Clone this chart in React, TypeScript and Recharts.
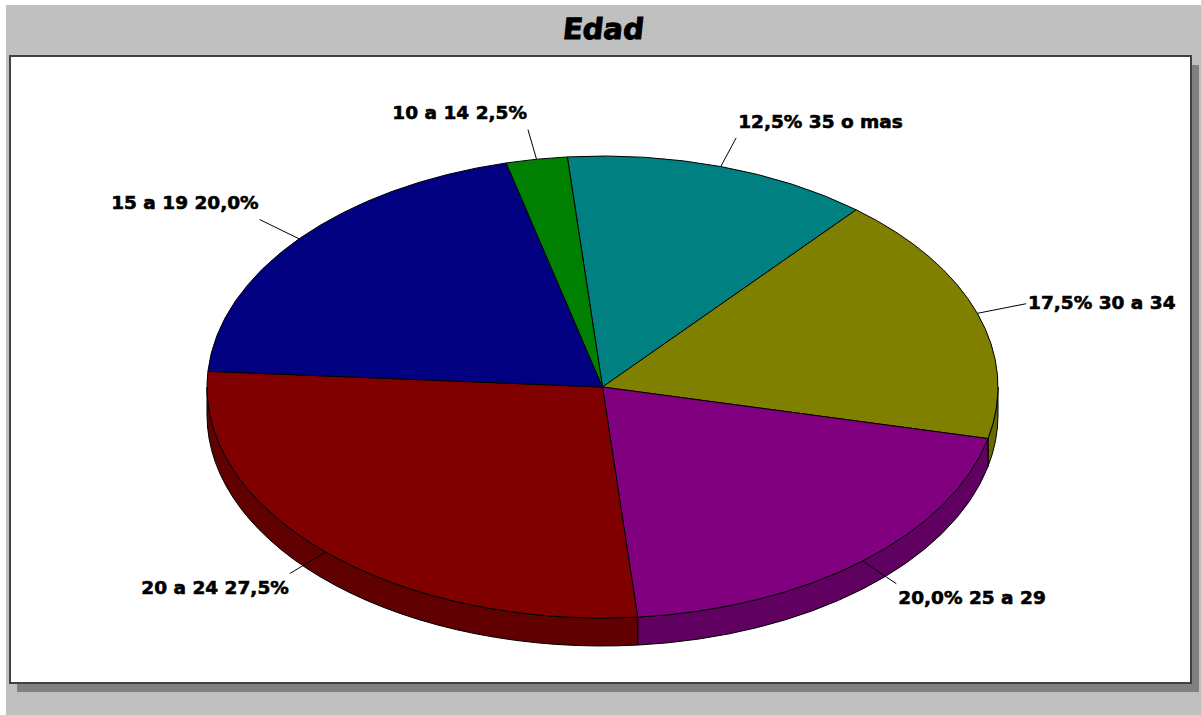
import { PieChart, Pie, Cell } from "recharts";

const ageGroups = ["35 o mas", "30 a 34", "25 a 29", "20 a 24", "15 a 19", "10 a 14"];
const shares = [12.5, 17.5, 20, 27.5, 20, 2.5];
const topColors = ["#008080", "#808000", "#800080", "#800000", "#000080", "#008000"];
const sideColors = ["#006060", "#6a6a00", "#600060", "#600000", "#000060", "#006000"];

const pieData = ageGroups.map((name, i) => ({ name, value: shares[i] }));

const CX = 602.5;
const CY = 387;
const RX = 395.5;
const RY = 231;
const DEPTH = 28;
const FONT = '"DejaVu Sans", sans-serif';

const RAD = Math.PI / 180;
const px = (angle: number, k = 1) => CX + k * RX * Math.cos(angle * RAD);
const py = (angle: number, k = 1) => CY - k * RY * Math.sin(angle * RAD);

// pie face squashed into an ellipse
const TopSlice = (props: any) => {
  const { startAngle, endAngle, fill } = props;
  const large = Math.abs(startAngle - endAngle) > 180 ? 1 : 0;
  const d = `M${CX},${CY} L${px(startAngle)},${py(startAngle)} A${RX},${RY} 0 ${large} 1 ${px(endAngle)},${py(endAngle)} Z`;
  return <path d={d} fill={fill} stroke="#000" strokeWidth={1} />;
};

// rim below the face, only the front half (0 to -180 degrees) shows
const SideSlice = (props: any) => {
  const { fill, startAngle, endAngle } = props;
  const from = Math.min(startAngle, 0);
  const to = Math.max(endAngle, -180);
  if (from <= to) return null;
  const d =
    `M${px(from)},${py(from)} A${RX},${RY} 0 0 1 ${px(to)},${py(to)} ` +
    `L${px(to)},${py(to) + DEPTH} A${RX},${RY} 0 0 0 ${px(from)},${py(from) + DEPTH} Z`;
  return <path d={d} fill={fill} stroke="#000" strokeWidth={1} />;
};

const renderLabel = (props: any) => {
  const { midAngle, name, value } = props;
  const cos = Math.cos(midAngle * RAD);
  const sin = Math.sin(midAngle * RAD);
  const ex = px(midAngle, 1.13);
  const ey = py(midAngle, 1.13);
  const right = cos > 0;
  const pct = `${value.toFixed(1).replace(".", ",")}%`;
  const lift = Math.abs(sin) > 0.5 ? (sin > 0 ? -17 : 14) : -1;
  return (
    <g>
      <line x1={px(midAngle)} y1={py(midAngle)} x2={ex} y2={ey} stroke="#000" strokeWidth={1} />
      <text
        x={ex + (right ? 2 : -1)}
        y={ey + lift}
        dy="0.36em"
        textAnchor={right ? "start" : "end"}
        fontFamily={FONT}
        fontWeight="bold"
        fontSize={18.5}
        stroke="#000"
        strokeWidth={0.6}
        fill="#000"
      >
        {right ? `${pct} ${name}` : `${name} ${pct}`}
      </text>
    </g>
  );
};

const App = () => (
  <div style={{ position: "absolute", left: 0, top: 0, width: 1201, height: 715, background: "#fff", overflow: "hidden" }}>
    <div style={{ position: "absolute", left: 6, top: 5, width: 1195, height: 710, background: "#c0c0c0" }} />
    <div style={{ position: "absolute", left: 17, top: 65, width: 1182, height: 627, background: "#808080" }} />
    <div
      style={{
        position: "absolute",
        left: 9,
        top: 55,
        width: 1183,
        height: 629,
        boxSizing: "border-box",
        background: "#fff",
        border: "2px solid #404040",
      }}
    />
    <div
      style={{
        position: "absolute",
        left: 6,
        top: 8,
        width: 1195,
        textAlign: "center",
        fontFamily: FONT,
        fontWeight: "bold",
        fontSize: 29,
        lineHeight: "42px",
        color: "#000",
        WebkitTextStroke: "1px #000",
        transform: "skewX(-6deg)",
      }}
    >
      Edad
    </div>
    <div style={{ position: "absolute", left: 0, top: 0 }}>
      <PieChart width={1201} height={715} margin={{ top: 0, right: 0, bottom: 0, left: 0 }}>
        <Pie
          data={pieData}
          dataKey="value"
          nameKey="name"
          cx={CX}
          cy={CY}
          outerRadius={RX}
          startAngle={95.1}
          endAngle={-264.9}
          shape={SideSlice}
          label={false}
          labelLine={false}
          isAnimationActive={false}
        >
          {pieData.map((d, i) => (
            <Cell key={d.name} fill={sideColors[i]} />
          ))}
        </Pie>
        <Pie
          data={pieData}
          dataKey="value"
          nameKey="name"
          cx={CX}
          cy={CY}
          outerRadius={RX}
          startAngle={95.1}
          endAngle={-264.9}
          shape={TopSlice}
          label={renderLabel}
          labelLine={false}
          isAnimationActive={false}
        >
          {pieData.map((d, i) => (
            <Cell key={d.name} fill={topColors[i]} />
          ))}
        </Pie>
      </PieChart>
    </div>
  </div>
);

export default App;
